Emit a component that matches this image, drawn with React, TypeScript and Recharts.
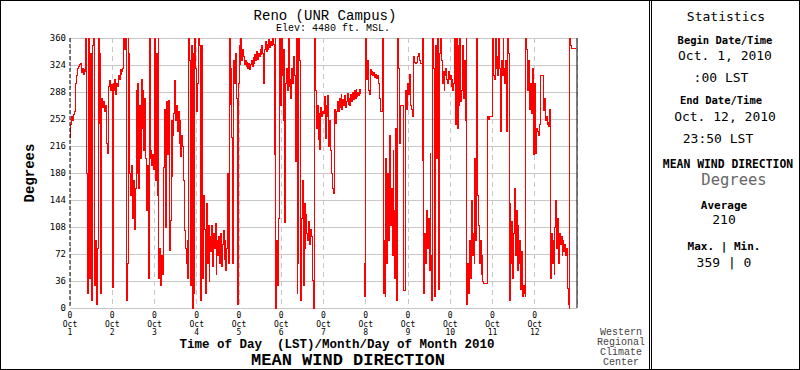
import React from 'react';
import { LineChart, Line, XAxis, YAxis, CartesianGrid, ReferenceLine } from 'recharts';

// Mean wind direction, Reno (UNR Campus), 1-12 Oct 2010, half-hourly readings (degrees)
const OCT_01 = [228, 245, 255, 250, 258, 262, 300, 310, 318, 320, 322, 325, 326, 314, 320, 312, 318, 316, 360, 180, 20, 360, 40, 340, 10, 162, 350, 360, 30, 90, 5, 80, 360, 246, 340, 20, 280, 268, 275, 262, 270, 260, 220, 206, 295, 304, 290, 298];
const OCT_02 = [28, 300, 290, 305, 285, 300, 295, 310, 305, 318, 312, 316, 320, 360, 345, 360, 10, 60, 360, 340, 180, 150, 190, 120, 170, 105, 160, 290, 180, 300, 160, 270, 200, 305, 240, 290, 210, 280, 200, 130, 190, 40, 360, 200, 210, 190, 205, 185];
const OCT_03 = [360, 170, 340, 150, 360, 40, 80, 30, 70, 45, 188, 265, 258, 108, 275, 205, 277, 77, 117, 250, 175, 230, 260, 304, 250, 270, 235, 262, 220, 250, 202, 230, 215, 170, 104, 80, 60, 90, 40, 360, 330, 30, 350, 0, 340, 20, 360, 320];
const OCT_04 = [262, 300, 360, 350, 10, 350, 330, 40, 150, 105, 20, 140, 60, 110, 35, 95, 75, 110, 55, 100, 80, 113, 45, 90, 70, 95, 60, 100, 55, 85, 104, 65, 90, 50, 80, 179, 60, 360, 272, 320, 228, 60, 330, 300, 340, 280, 5, 300];
const OCT_05 = [350, 325, 360, 330, 345, 335, 325, 330, 322, 328, 320, 326, 318, 325, 330, 322, 334, 326, 338, 330, 342, 332, 340, 335, 345, 338, 350, 340, 300, 345, 355, 342, 352, 345, 358, 348, 355, 350, 360, 352, 205, 360, 0, 90, 30, 120, 360, 270];
const OCT_06 = [360, 310, 250, 345, 114, 300, 320, 290, 360, 295, 305, 280, 320, 300, 335, 310, 196, 360, 20, 60, 360, 330, 10, 120, 170, 30, 140, 80, 125, 100, 90, 115, 85, 105, 95, 37, 37, 0, 360, 290, 240, 270, 225, 260, 211, 268, 255, 262];
const OCT_07 = [260, 282, 226, 270, 255, 283, 215, 250, 210, 180, 160, 153, 250, 265, 246, 262, 275, 262, 280, 268, 285, 265, 278, 270, 284, 268, 276, 286, 272, 280, 270, 285, 275, 288, 278, 290, 280, 292, 282, 288, 284, 292, 285, null, null, null, 60, 15];
const OCT_08 = [360, 305, 330, 290, 285, 318, 312, 316, 310, 314, 308, 312, 306, 310, 304, 300, 280, 262, 262, 360, 20, 90, 15, 200, 60, 180, 90, 230, 110, 160, 70, 210, 130, 40, 240, 10, 360, 320, 220, 270, 270, 270, 270, 24, 24, 290, 265, 300];
const OCT_09 = [300, 285, 312, 270, 265, 255, 335, 328, 327, 326, 328, 335, 340, 330, 326, 326, 197, 360, 20, 100, 60, 130, 80, 120, 50, 206, 70, 10, 360, 320, 15, 350, 200, 320, 360, 25, 340, 360, 330, 300, 315, 290, 310, 320, 305, 300, 315, 305];
const OCT_10 = [310, 295, 305, 290, 300, 360, 245, 360, 240, 350, 270, 360, 275, 290, 350, 280, 330, 250, 360, 5, 60, 20, 90, 40, 144, 70, 100, 60, 200, 90, 360, 150, 110, 60, 90, 45, 70, 35, 33, 33, 33, 33, 255, 255, 252, 255, 255, 255];
const OCT_11 = [360, 310, 305, 360, 320, 335, 310, 360, 320, 235, 330, 310, 360, 320, 300, 330, 235, 360, 340, 10, 140, 60, 115, 40, 100, 160, 70, 130, 50, 110, 60, 90, 25, 75, 15, 30, 20, 15, 360, 345, 290, 330, 265, 300, 260, 310, 320, 205];
const OCT_12 = [300, 206, 240, 235, 230, 245, 310, 310, 310, 310, 264, 280, 250, 255, 245, 248, 242, 265, 40, 100, 60, 90, 45, 108, 144, 80, 120, 60, 100, 85, 95, 70, 90, 75, 85, 70, 80, 26, 5, 0, 360, 350, 346, 346, 346, 346, 346, 346];

const DAYS = [OCT_01, OCT_02, OCT_03, OCT_04, OCT_05, OCT_06, OCT_07, OCT_08, OCT_09, OCT_10, OCT_11, OCT_12];

const DAY_TICKS = [0, 1, 2, 3, 4, 5, 6, 7, 8, 9, 10, 11];
const DAY_LABELS = ['1', '2', '3', '4', '5', '6', '7', '8', '9', '10', '11', '12'];
const DEG_TICKS = [0, 36, 72, 108, 144, 180, 216, 252, 288, 324, 360];

// x in days since Oct 1 00:00
const chartData = DAYS.flatMap((vals, d) => vals.map((dir, i) => ({ t: d + i / 48, dir })));

const MONO = '"Liberation Mono", "Courier New", monospace';
const PIX = '"DejaVu Sans Mono", monospace';

const DayTick = ({ x, y, payload }: any) => (
  <g fontFamily={PIX} fontSize={8} fill="#000" textAnchor="middle">
    <text x={x} y={y + 10}>0</text>
    <text x={x} y={y + 19}>Oct</text>
    <text x={x} y={y + 27}>{DAY_LABELS[payload.value]}</text>
  </g>
);

const App: React.FC = () => {
  return (
    <div style={{ position: 'relative', width: 800, height: 370, background: '#fff' }}>
      <style>{'body{margin:0}'}</style>
      <div style={{ position: 'absolute', left: 0, top: 0 }}>
        <LineChart width={648} height={370} data={chartData} margin={{ top: 38, right: 71, left: 0, bottom: 0 }}>
          <CartesianGrid horizontal vertical={false} stroke="#c8c8c8" shapeRendering="crispEdges" />
          <CartesianGrid horizontal={false} vertical stroke="#c8c8c8" strokeDasharray="5 4" shapeRendering="crispEdges" />
          <XAxis
            dataKey="t"
            type="number"
            domain={[0, 12]}
            ticks={DAY_TICKS}
            interval={0}
            axisLine={false}
            tickLine={false}
            tickSize={0}
            tickMargin={0}
            height={62}
            tick={<DayTick />}
          />
          <YAxis
            type="number"
            domain={[0, 360]}
            ticks={DEG_TICKS}
            interval={0}
            width={70}
            tickLine={false}
            tickSize={0}
            tickMargin={4}
            axisLine={{ stroke: '#000', strokeDasharray: '4 2' }}
            tick={{ fontSize: 9, fontFamily: PIX, fill: '#000' }}
          />
          <ReferenceLine x={12} stroke="#000" />
          <Line
            type="stepAfter"
            dataKey="dir"
            stroke="#ff0000"
            strokeWidth={1}
            shapeRendering="crispEdges"
            dot={false}
            activeDot={false}
            connectNulls={false}
            isAnimationActive={false}
          />
        </LineChart>
      </div>
      <svg width={800} height={370} style={{ position: 'absolute', left: 0, top: 0, pointerEvents: 'none' }}>
        <rect x={0.5} y={0.5} width={799} height={369} fill="none" stroke="#000" />
        <line x1={649.5} y1={0} x2={649.5} y2={370} stroke="#000" />
        <line x1={651.5} y1={0} x2={651.5} y2={370} stroke="#000" />

        <text x={325} y={20} textAnchor="middle" fontFamily={MONO} fontSize={14}>Reno (UNR Campus)</text>
        <text x={333} y={31} textAnchor="middle" fontFamily={MONO} fontSize={10}>Elev: 4480 ft. MSL.</text>
        <text x={337} y={348} textAnchor="middle" fontFamily={MONO} fontSize={12.5} fontWeight="bold" xmlSpace="preserve">Time of Day  (LST)/Month/Day of Month 2010</text>
        <text x={348} y={365} textAnchor="middle" fontFamily={MONO} fontSize={17} fontWeight="bold">MEAN WIND DIRECTION</text>
        <text x={0} y={0} transform="translate(34 173) rotate(-90)" textAnchor="middle" fontFamily={MONO} fontSize={14} fontWeight="bold">Degrees</text>

        <g fontFamily={MONO} fontSize={10} fill="#444" textAnchor="middle">
          <text x={621} y={335}>Western</text>
          <text x={621} y={345}>Regional</text>
          <text x={621} y={355}>Climate</text>
          <text x={621} y={365}>Center</text>
        </g>

        <g fontFamily={PIX} textAnchor="middle" fill="#000">
          <text x={726} y={21} fontSize={13}>Statistics</text>
          <text x={725} y={44} fontSize={10.5} fontWeight="bold">Begin Date/Time</text>
          <text x={725} y={60} fontSize={13}>Oct. 1, 2010</text>
          <text x={721} y={82} fontSize={13}>:00 LST</text>
          <text x={721} y={104} fontSize={10.5} fontWeight="bold">End Date/Time</text>
          <text x={725} y={121} fontSize={13}>Oct. 12, 2010</text>
          <text x={718} y={143} fontSize={13}>23:50 LST</text>
          <text x={728} y={168} fontSize={11.4} fontWeight="bold">MEAN WIND DIRECTION</text>
          <text x={734} y={185} fontSize={15.5} fill="#666">Degrees</text>
          <text x={724} y={209} fontSize={11} fontWeight="bold">Average</text>
          <text x={724} y={224} fontSize={13}>210</text>
          <text x={724} y={250} fontSize={11} fontWeight="bold">Max. | Min.</text>
          <text x={724} y={267} fontSize={13}>359 | 0</text>
        </g>
      </svg>
    </div>
  );
};

export default App;
